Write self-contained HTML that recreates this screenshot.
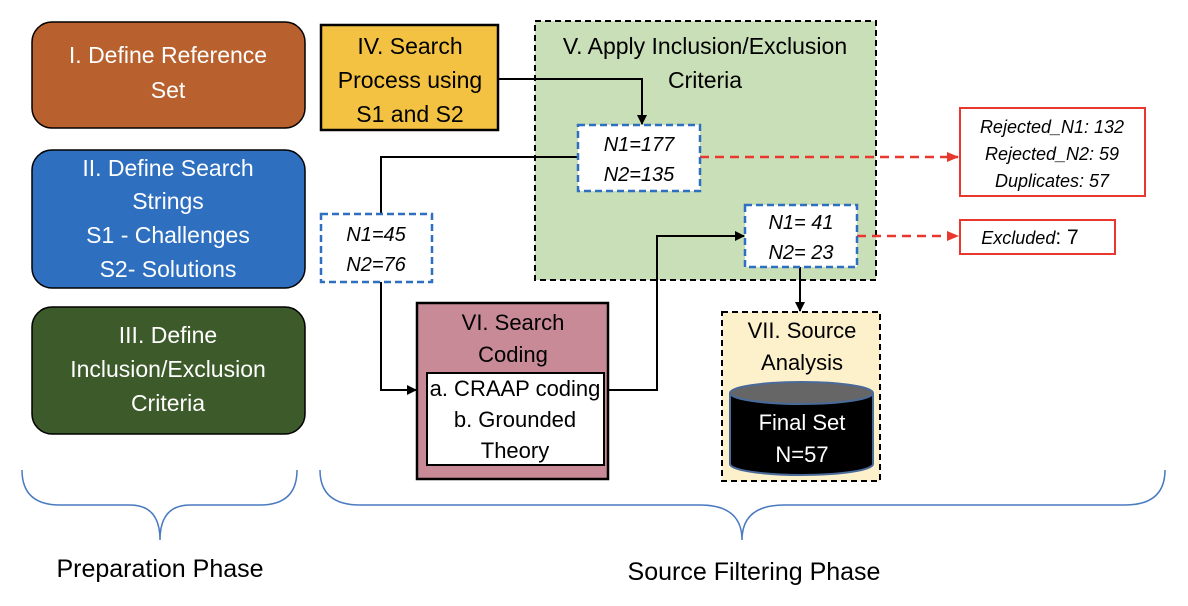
<!DOCTYPE html>
<html><head><meta charset="utf-8"><style>html,body{margin:0;padding:0;background:#fff}svg{display:block}text{font-family:"Liberation Sans",sans-serif}</style></head><body>
<svg width="1188" height="606" viewBox="0 0 1188 606" xmlns="http://www.w3.org/2000/svg">
<defs><marker id="a" markerWidth="10" markerHeight="10" refX="9" refY="5" orient="auto" markerUnits="userSpaceOnUse"><path d="M0,0 L10,5 L0,10 z" fill="#000"/></marker>
<marker id="r" markerWidth="12" markerHeight="10" refX="11" refY="5" orient="auto" markerUnits="userSpaceOnUse"><path d="M0,0 L12,5 L0,10 z" fill="#e8382e"/></marker></defs>
<g font-size="23" fill="#fff" text-anchor="middle">
<rect x="32" y="22" width="273" height="106" rx="20" fill="#b8612e" stroke="#000" stroke-width="1.5"/>
<text x="168" y="63">I. Define Reference</text><text x="168" y="98">Set</text>
<rect x="32" y="150" width="273" height="138" rx="20" fill="#2e6fbf" stroke="#000" stroke-width="1.5"/>
<text x="168" y="176">II. Define Search</text><text x="168" y="209">Strings</text><text x="168" y="243">S1 - Challenges</text><text x="168" y="277">S2- Solutions</text>
<rect x="32" y="307" width="273" height="127" rx="20" fill="#3d5a2a" stroke="#000" stroke-width="1.5"/>
<text x="168" y="343">III. Define</text><text x="168" y="377">Inclusion/Exclusion</text><text x="168" y="411">Criteria</text>
</g>
<rect x="535" y="21" width="341" height="259" fill="#c9dfb8" stroke="#000" stroke-width="2" stroke-dasharray="6,4"/>
<rect x="321" y="25" width="177" height="105" fill="#f3c242" stroke="#000" stroke-width="2.5"/>
<g font-size="23" fill="#000" text-anchor="middle">
<text x="410" y="54">IV. Search</text><text x="410" y="88">Process using</text><text x="410" y="122">S1 and S2</text>
<text x="705" y="54">V. Apply Inclusion/Exclusion</text><text x="705" y="88">Criteria</text>
</g>
<g fill="none" stroke="#000" stroke-width="2">
<polyline points="498,79 642,79 642,124" marker-end="url(#a)"/>
<polyline points="578,157 381,157 381,214"/>
<polyline points="381,282 381,390 416,390" marker-end="url(#a)"/>
<polyline points="608,390 657,390 657,236 744,236" marker-end="url(#a)"/>
<polyline points="800,267 800,311" marker-end="url(#a)"/>
</g>
<g fill="none" stroke="#e8382e" stroke-width="2.5" stroke-dasharray="9,6">
<line x1="700" y1="157" x2="958" y2="157" marker-end="url(#r)"/>
<line x1="857" y1="236" x2="958" y2="236" marker-end="url(#r)"/>
</g>
<g fill="#fff" stroke="#2e6fbf" stroke-width="2.5" stroke-dasharray="7,4">
<rect x="578" y="125" width="122" height="66"/>
<rect x="321" y="214" width="111" height="68"/>
<rect x="745" y="205" width="112" height="62"/>
</g>
<g font-size="20" font-style="italic" text-anchor="middle" fill="#000">
<text x="639" y="151">N1=177</text><text x="639" y="181">N2=135</text>
<text x="376" y="241">N1=45</text><text x="376" y="271">N2=76</text>
<text x="801" y="229">N1= 41</text><text x="801" y="259">N2= 23</text>
</g>
<rect x="960" y="108" width="185" height="88" fill="#fff" stroke="#e8382e" stroke-width="2"/>
<rect x="960" y="220" width="155" height="34" fill="#fff" stroke="#e8382e" stroke-width="2"/>
<g font-size="18" font-style="italic" text-anchor="middle" fill="#000">
<text x="1052" y="133">Rejected_N1: 132</text><text x="1052" y="160">Rejected_N2: 59</text><text x="1052" y="187">Duplicates: 57</text>
<text x="1030" y="244">Excluded<tspan font-style="normal" font-size="21">: 7</tspan></text>
</g>
<rect x="417" y="303" width="191" height="176" fill="#c98a97" stroke="#000" stroke-width="2.5"/>
<rect x="427" y="373" width="177" height="92" fill="#fff" stroke="#000" stroke-width="2"/>
<g font-size="22" text-anchor="middle" fill="#000">
<text x="513" y="330">VI. Search</text><text x="513" y="362">Coding</text>
<text x="515" y="396">a. CRAAP coding</text><text x="515" y="427">b. Grounded</text><text x="515" y="458">Theory</text>
</g>
<rect x="722" y="312" width="158" height="169" fill="#fdf1cc" stroke="#000" stroke-width="2" stroke-dasharray="6,4"/>
<g font-size="22" text-anchor="middle" fill="#000"><text x="802" y="338">VII. Source</text><text x="802" y="370">Analysis</text></g>
<path d="M730,393 L730,464 A71.5,11 0 0 0 873,464 L873,393" fill="#000" stroke="#4a6a9a" stroke-width="2"/>
<ellipse cx="801.5" cy="393" rx="71.5" ry="11" fill="#666" stroke="#4a6a9a" stroke-width="2"/>
<g font-size="22" text-anchor="middle" fill="#fff"><text x="802" y="430">Final Set</text><text x="802" y="462">N=57</text></g>
<g fill="none" stroke="#4a7ac0" stroke-width="1.5">
<path d="M22,470 Q22,505 60,505 L130,505 Q160,505 160,540 Q160,505 190,505 L260,505 Q297,505 297,470"/>
<path d="M320,470 Q320,505 360,505 L700,505 Q742,505 742,540 Q742,505 784,505 L1125,505 Q1165,505 1165,470"/>
</g>
<g font-size="25" text-anchor="middle" fill="#000"><text x="160" y="577">Preparation Phase</text><text x="754" y="580">Source Filtering Phase</text></g>
</svg>
</body></html>
